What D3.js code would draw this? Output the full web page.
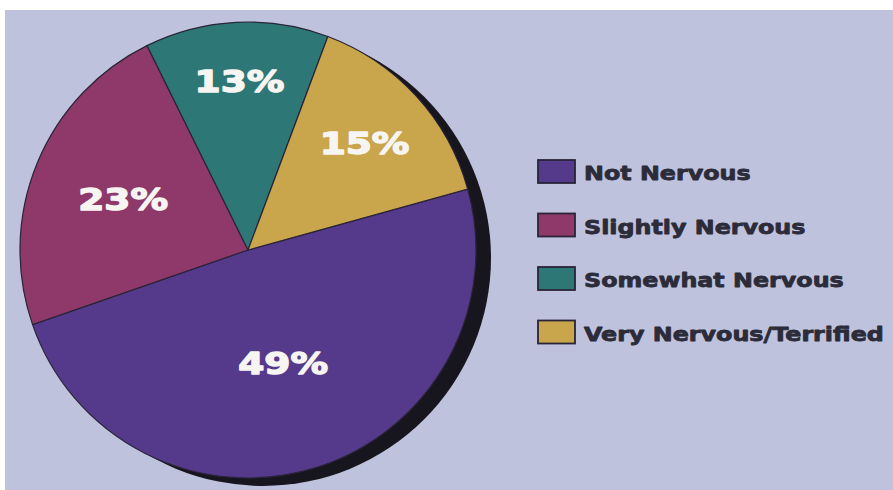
<!DOCTYPE html>
<html>
<head>
<meta charset="utf-8">
<script src="https://cdn.jsdelivr.net/npm/d3@7"></script>
<style>
  html, body { margin: 0; padding: 0; background: #ffffff; }
  svg { display: block; }
</style>
</head>
<body>
<div id="chart"></div>
<script>
var width = 893;
var height = 490;

// data, legend order
var categories = ["Not Nervous", "Slightly Nervous", "Somewhat Nervous", "Very Nervous/Terrified"];
var values = [49, 23, 13, 15];
var labels = ["49%", "23%", "13%", "15%"];
var colors = ["#553a8c", "#8e396a", "#2e7777", "#c9a54c"];

// layout
var cx = 248, cy = 250, radius = 228;
var labelRadius = [118, 135, 169, 158]; // how far each label sits from centre
var textScale = 1.25;

var svg = d3.select("#chart")
    .append("svg")
    .attr("width", width)
    .attr("height", height);

// paper background
svg.append("rect")
    .attr("x", 5)
    .attr("y", 10)
    .attr("width", width - 5)
    .attr("height", height - 10)
    .attr("fill", "#bfc2dc");

var pie = d3.pie()
    .sort(null)
    .startAngle(74.5 * Math.PI / 180)
    .endAngle(74.5 * Math.PI / 180 + 2 * Math.PI)
    .value(function(d){ return d; });

var arc = d3.arc()
    .innerRadius(0)
    .outerRadius(radius);

var arcs = pie(values);

// drop shadow
svg.append("circle")
    .attr("cx", cx + 15)
    .attr("cy", cy + 8)
    .attr("r", radius)
    .attr("fill", "#17151d");

var chartGroup = svg.append("g")
    .attr("transform", "translate(" + cx + "," + cy + ")");

chartGroup.selectAll("path.slice")
    .data(arcs)
    .enter()
    .append("path")
    .attr("class", "slice")
    .attr("d", arc)
    .attr("fill", function(d, i){ return colors[i]; })
    .attr("stroke", "#2a2438")
    .attr("stroke-width", 1.2);

// percentage labels
chartGroup.selectAll("text.pct")
    .data(arcs)
    .enter()
    .append("text")
    .attr("class", "pct")
    .attr("transform", function(d, i){
        var a = (d.startAngle + d.endAngle) / 2;
        var r = labelRadius[i];
        var x = Math.sin(a) * r;
        var y = -Math.cos(a) * r;
        return "translate(" + x + "," + (y + 11) + ") scale(" + textScale + ",1)";
    })
    .attr("text-anchor", "middle")
    .attr("font-family", "DejaVu Sans")
    .attr("font-weight", "bold")
    .attr("font-size", 30)
    .attr("fill", "#f7f5f2")
    .attr("stroke", "#f7f5f2")
    .attr("stroke-width", 1.4)
    .attr("stroke-linejoin", "round")
    .text(function(d, i){ return labels[i]; });

// legend
var legend = svg.append("g")
    .attr("transform", "translate(538,160)");

var rows = legend.selectAll("g.row")
    .data(categories)
    .enter()
    .append("g")
    .attr("class", "row")
    .attr("transform", function(d, i){ return "translate(0," + (i * 53.5) + ")"; });

rows.append("rect")
    .attr("width", 37)
    .attr("height", 23)
    .attr("fill", function(d, i){ return colors[i]; })
    .attr("stroke", "#2a2438")
    .attr("stroke-width", 1.8);

rows.append("text")
    .attr("transform", "translate(46,20) scale(1.22,1)")
    .attr("font-family", "DejaVu Sans")
    .attr("font-weight", "bold")
    .attr("font-size", 19.5)
    .attr("fill", "#2b2b3a")
    .attr("stroke", "#2b2b3a")
    .attr("stroke-width", 0.8)
    .attr("stroke-linejoin", "round")
    .text(function(d){ return d; });
</script>
</body>
</html>
